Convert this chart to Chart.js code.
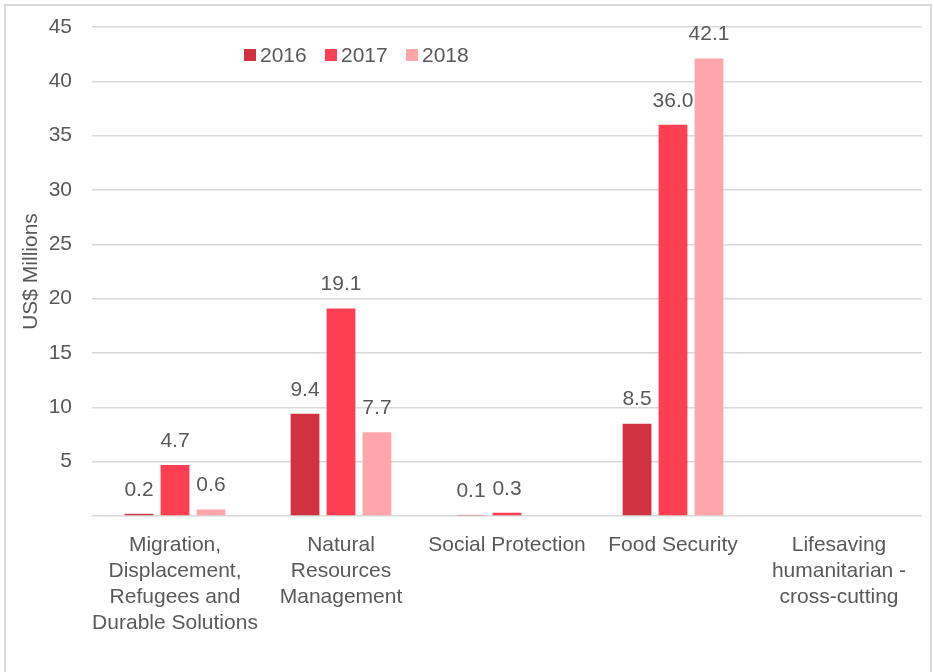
<!DOCTYPE html>
<html>
<head>
<meta charset="utf-8">
<script src="https://cdn.jsdelivr.net/npm/chart.js@4/dist/chart.umd.min.js"></script>
<style>
  html, body { margin: 0; padding: 0; background: #fff; overflow: hidden; }
  .frame {
    position: absolute; left: 4px; top: 4px;
    width: 924px; height: 700px;
    border: 2px solid #d9d9d9;
  }
  canvas { display: block; }
</style>
</head>
<body>
<div class="frame"><canvas id="chart" width="924" height="668"></canvas></div>
<script>
  // categories + series (US$ millions)
  const categories = [
    ["Migration,", "Displacement,", "Refugees and", "Durable Solutions"],
    ["Natural", "Resources", "Management"],
    "Social Protection",
    "Food Security",
    ["Lifesaving", "humanitarian -", "cross-cutting"]
  ];
  const years = ["2016", "2017", "2018"];
  const values2016 = [0.2, 9.4, 0.1, 8.5, null];
  const values2017 = [4.7, 19.1, 0.3, 36.0, null];
  const values2018 = [0.6, 7.7, null, 42.1, null];
  const yTicks = [0, 5, 10, 15, 20, 25, 30, 35, 40, 45];

  const COLORS = ["#D03241", "#FD3E53", "#FFA6AD"];
  const TEXT = "#595959";
  const FONT = "'Liberation Sans', Arial, sans-serif";
  const FS = 21;

  // value labels above each bar
  const barLabels = {
    id: "barLabels",
    afterDatasetsDraw(chart) {
      const ctx = chart.ctx;
      ctx.save();
      ctx.font = FS + "px " + FONT;
      ctx.fillStyle = TEXT;
      ctx.textAlign = "center";
      ctx.textBaseline = "middle";
      chart.data.datasets.forEach((ds, i) => {
        chart.getDatasetMeta(i).data.forEach((bar, j) => {
          const v = ds.data[j];
          if (v === null || v === undefined) return;
          ctx.fillText(v.toFixed(1), bar.x, bar.y - 24);
        });
      });
      ctx.restore();
    }
  };

  // small legend sitting inside the plot, top left-ish
  const innerLegend = {
    id: "innerLegend",
    afterDraw(chart) {
      const ctx = chart.ctx;
      const xs = [238, 319, 400];
      const y = 49;
      ctx.save();
      ctx.font = FS + "px " + FONT;
      ctx.textBaseline = "middle";
      ctx.textAlign = "left";
      chart.data.datasets.forEach((ds, i) => {
        ctx.fillStyle = ds.backgroundColor;
        ctx.fillRect(xs[i], y - 6, 12, 12);
        ctx.fillStyle = TEXT;
        ctx.fillText(ds.label, xs[i] + 16, y + 1);
      });
      ctx.restore();
    }
  };

  new Chart(document.getElementById("chart"), {
    type: "bar",
    data: {
      labels: categories,
      datasets: [
        { label: years[0], data: values2016, backgroundColor: COLORS[0] },
        { label: years[1], data: values2017, backgroundColor: COLORS[1] },
        { label: years[2], data: values2018, backgroundColor: COLORS[2] }
      ]
    },
    options: {
      responsive: false,
      animation: false,
      events: [],
      categoryPercentage: 0.65,
      barPercentage: 0.8,
      layout: { padding: { left: 0, right: 8, top: 21, bottom: 0 } },
      plugins: {
        legend: { display: false },
        tooltip: { enabled: false }
      },
      scales: {
        x: {
          grid: { display: false },
          border: { display: false },
          ticks: {
            color: TEXT,
            padding: 8,
            maxRotation: 0,
            autoSkip: false,
            font: { family: FONT, size: FS, lineHeight: 26 / FS }
          },
          afterFit(scale) { scale.height = 158; }
        },
        y: {
          min: 0,
          max: 45,
          afterBuildTicks(scale) { scale.ticks = yTicks.map(v => ({ value: v })); },
          // invisible tick marks give the label gap without padding the top
          grid: { color: "#d9d9d9", lineWidth: 1.5, drawTicks: true, tickLength: 20, tickColor: "rgba(0,0,0,0)" },
          border: { display: false },
          ticks: {
            color: TEXT,
            padding: 0,
            font: { family: FONT, size: FS },
            callback: v => (v === 0 ? "" : v)
          },
          title: {
            display: true,
            text: "US$ Millions",
            color: TEXT,
            padding: { top: 13, bottom: 0 },
            font: { family: FONT, size: FS }
          },
          afterFit(scale) { scale.width = 86; }
        }
      }
    },
    plugins: [barLabels, innerLegend]
  });
</script>
</body>
</html>
